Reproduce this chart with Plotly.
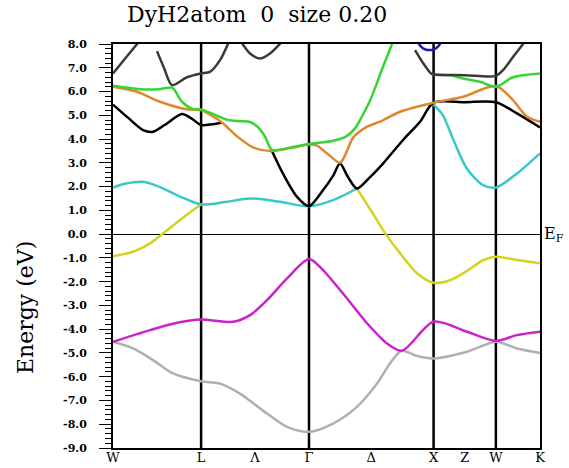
import plotly.graph_objects as go

# ---- k-path (units of 2*pi/a) ----
label_k = [0.0, 0.707, 1.140, 1.573, 2.073, 2.573, 2.823, 3.073, 3.427]
labels = ["W", "L", "Λ", "Γ", "Δ", "X", "Z", "W", "K"]
sym_k = [0.707, 1.573, 2.573, 3.073]

y_ticks = [8, 7, 6, 5, 4, 3, 2, 1, 0, -1, -2, -3, -4, -5, -6, -7, -8, -9]
y_ticktext = ["8.0", "7.0", "6.0", "5.0", "4.0", "3.0", "2.0", "1.0", "0.0",
              "-1.0", "-2.0", "-3.0", "-4.0", "-5.0", "-6.0", "-7.0", "-8.0", "-9.0"]

# ---- bands (k, E in eV); None = break ----
gray_k = [0, 0.161, 0.321, 0.482, 0.707, 0.859, 1.019, 1.236, 1.397, 1.573, 1.766, 1.958,
          2.119, 2.223, 2.319, 2.440, 2.573, 2.841, 3.073, 3.242, 3.427]
gray_e = [-4.53, -4.81, -5.30, -5.86, -6.19, -6.29, -6.71, -7.55, -8.11, -8.32, -7.97, -7.27,
          -6.29, -5.44, -4.91, -5.13, -5.23, -4.95, -4.53, -4.81, -5.00]

magenta_k = [0, 0.297, 0.514, 0.707, 0.963, 1.100, 1.236, 1.397, 1.573, 1.661, 1.846, 2.039,
             2.199, 2.319, 2.573, 2.841, 3.073, 3.242, 3.427]
magenta_e = [-4.53, -4.04, -3.73, -3.59, -3.69, -3.41, -2.78, -1.86, -1.05, -1.38, -2.50, -3.75,
             -4.60, -4.91, -3.69, -4.11, -4.49, -4.25, -4.11]

yellow_k = [0, 0.161, 0.297, 0.401, 0.538, 0.618, 0.707, None,
            1.958, 2.039, 2.119, 2.167, 2.303, 2.440, 2.573, 2.705, 2.841, 2.970, 3.073, 3.242, 3.427]
yellow_e = [-0.93, -0.74, -0.39, 0.03, 0.59, 0.92, 1.25, None,
            1.92, 1.25, 0.59, 0.17, -0.80, -1.65, -2.05, -1.94, -1.55, -1.10, -0.95, -1.09, -1.23]

cyan_k = [0, 0.096, 0.241, 0.377, 0.538, 0.707, 0.899, 1.100, 1.340, 1.573, 1.766, 1.958, None,
          2.573, 2.648, 2.729, 2.841, 2.970, 3.073, 3.242, 3.427]
cyan_e = [1.96, 2.12, 2.20, 1.98, 1.58, 1.25, 1.35, 1.50, 1.36, 1.17, 1.43, 1.92, None,
          5.45, 5.00, 4.00, 2.75, 2.06, 1.96, 2.55, 3.40]

black_k = [0, 0.120, 0.241, 0.321, 0.417, 0.554, 0.634, 0.707, 0.795, 0.875, None,
           1.276, 1.364, 1.477, 1.573, 1.685, 1.766, 1.822, 1.886, 1.958, 2.063, 2.167,
           2.328, 2.464, 2.573, 2.825, 3.073, 3.242, 3.427]
black_e = [5.45, 4.90, 4.38, 4.31, 4.60, 5.05, 4.85, 4.59, 4.62, 4.70, None,
           3.50, 2.55, 1.57, 1.18, 1.85, 2.45, 2.97, 2.40, 1.92, 2.40, 2.97,
           3.96, 4.73, 5.53, 5.55, 5.55, 5.08, 4.49]

orange_k = [0, 0.193, 0.377, 0.594, 0.707, 0.795, 0.875, 0.995, 1.124, 1.276, 1.421, 1.573,
            1.637, 1.717, 1.822, 1.878, 1.926, 2.039, 2.143, 2.303, 2.573, 2.809, 3.073,
            3.210, 3.323, 3.427]
orange_e = [6.20, 5.99, 5.57, 5.25, 5.22, 4.98, 4.70, 4.12, 3.65, 3.50, 3.62, 3.77,
            3.72, 3.40, 3.00, 3.50, 4.05, 4.52, 4.73, 5.15, 5.53, 5.78, 6.23,
            5.64, 4.94, 4.73]

green_k = [0, 0.241, 0.377, 0.474, 0.554, 0.642, 0.707, 0.819, 0.923, 1.019, 1.100, 1.164,
           1.220, 1.276, 1.445, 1.573, 1.766, 1.862, 1.942, 1.998, 2.063, 2.167, 2.247, None,
           2.573, 2.705, 2.809, 2.946, 3.073, 3.210, 3.427]
green_e = [6.24, 6.09, 6.10, 6.16, 5.57, 5.26, 5.25, 5.02, 4.80, 4.75, 4.72, 4.50,
           4.10, 3.55, 3.67, 3.79, 3.93, 4.08, 4.45, 4.95, 5.62, 7.04, 8.10, None,
           6.72, 6.68, 6.55, 6.41, 6.20, 6.60, 6.76]

dark_k = [0, 0.096, 0.209, None,
          0.353, 0.409, 0.474, 0.594, 0.707, 0.779, 0.859, 0.931, None,
          1.027, 1.100, 1.180, 1.260, 1.356, None,
          2.424, 2.488, 2.552, 2.573, 2.825, 3.073, 3.130, 3.210, 3.306]
dark_e = [6.76, 7.38, 8.10, None,
          7.70, 7.00, 6.27, 6.60, 6.76, 6.83, 7.32, 8.10, None,
          8.10, 7.60, 7.39, 7.60, 8.10, None,
          7.74, 7.20, 6.76, 6.72, 6.69, 6.66, 6.90, 7.45, 8.10]

circle_k = [2.54]
circle_e = [8.25]

fig = go.Figure()


def add_band(k, e, color, width=2.5):
    fig.add_trace(go.Scatter(
        x=k, y=e, mode="lines", connectgaps=False, hoverinfo="skip", showlegend=False,
        line=dict(color=color, width=width, shape="spline", smoothing=0.8)))


add_band(gray_k, gray_e, "#b0b0b0")
add_band(magenta_k, magenta_e, "#cc22cc")
add_band(yellow_k, yellow_e, "#d4d41e")
add_band(cyan_k, cyan_e, "#38c8c8")
add_band(black_k, black_e, "#000000")
add_band(orange_k, orange_e, "#e0862c")
add_band(green_k, green_e, "#33d633")
add_band(dark_k, dark_e, "#3a3a3a")

fig.add_trace(go.Scatter(
    x=circle_k, y=circle_e, mode="markers", cliponaxis=True, showlegend=False, hoverinfo="skip",
    marker=dict(symbol="circle-open", size=24, color="#1c1caa", line=dict(width=2.5))))

for k in sym_k:
    fig.add_vline(x=k, line_width=2.5, line_color="black", layer="below")

serif = "DejaVu Serif"

fig.update_layout(
    template="none",
    width=569, height=468,
    margin=dict(l=113, r=29, t=44, b=20),
    paper_bgcolor="white", plot_bgcolor="white",
    showlegend=False,
    xaxis=dict(
        range=[0, 3.427], showline=True, mirror=True, linecolor="black", linewidth=2,
        showgrid=False, zeroline=False, automargin=False,
        tickmode="array", tickvals=label_k, ticktext=labels, ticks="",
        tickfont=dict(family=serif, size=13, color="black"),
        ticklabelstandoff=-4,
    ),
    yaxis=dict(
        range=[-9, 8], showline=True, mirror=True, linecolor="black", linewidth=2,
        showgrid=False, zeroline=True, zerolinecolor="black", zerolinewidth=1, automargin=False,
        tickmode="array", tickvals=y_ticks, ticktext=y_ticktext,
        ticks="outside", ticklen=12, tickwidth=1, tickcolor="black",
        minor=dict(dtick=0.2, ticks="outside", ticklen=6, tickwidth=1, tickcolor="black"),
        tickfont=dict(family=serif, size=11, color="black", weight="bold"),
        ticklabelstandoff=10,
    ),
    annotations=[
        dict(text="DyH2atom  0  size 0.20", xref="paper", yref="paper", x=0.337, y=1.074,
             xanchor="center", yanchor="middle", showarrow=False,
             font=dict(family=serif, size=22, color="black")),
        dict(text="Energy (eV)", xref="paper", yref="paper", x=-0.206, y=0.3465,
             xanchor="center", yanchor="middle", showarrow=False, textangle=-90,
             font=dict(family=serif, size=22, color="black")),
        dict(text="E<sub>F</sub>", xref="paper", yref="y", x=1.004, y=0,
             xanchor="left", yanchor="middle", showarrow=False,
             font=dict(family=serif, size=16, color="black")),
    ],
)

fig.write_html("out.html")
